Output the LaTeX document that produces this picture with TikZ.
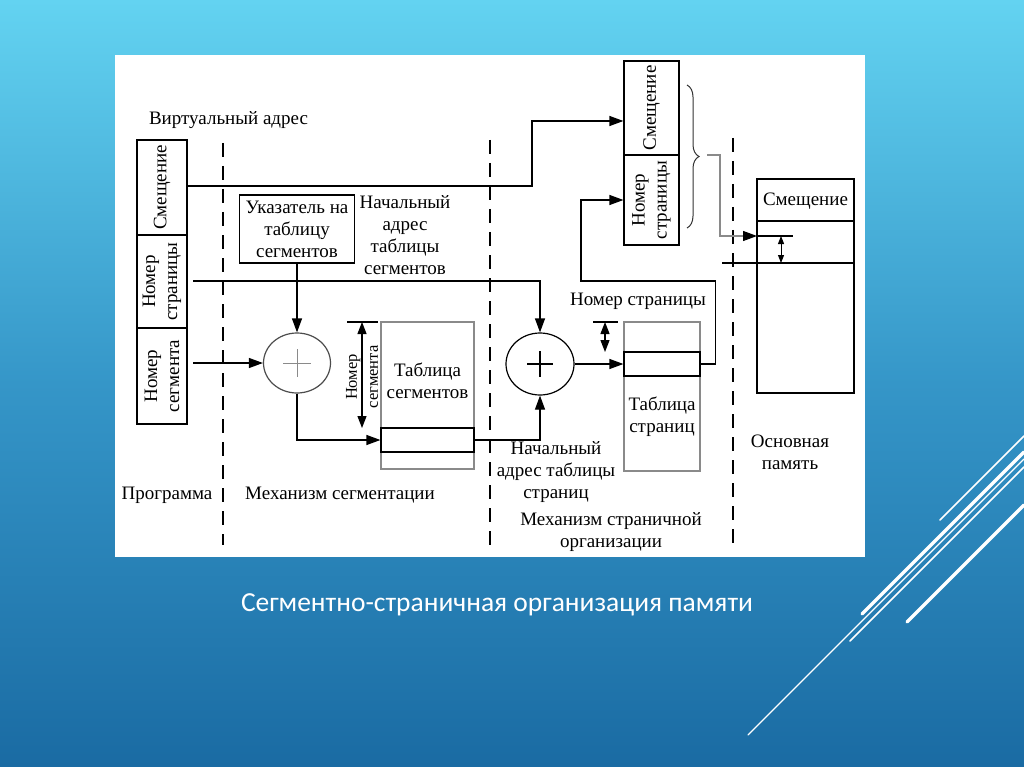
\documentclass[tikz,border=0pt]{standalone}
\usepackage{fontspec}
\setmainfont{Liberation Serif}
\newfontfamily\capfont{Carlito}
\usetikzlibrary{arrows.meta,shapes.geometric,decorations.pathreplacing}
\definecolor{bgtop}{HTML}{63D3F1}
\definecolor{bgmid}{HTML}{3596C8}
\definecolor{bgbot}{HTML}{1A6BA3}
\definecolor{tgray}{HTML}{8A8A8A}
\begin{document}
\begin{tikzpicture}[x=1pt,y=-1pt,
  ln/.style={line width=1.2pt,draw=black},
  arr/.style={ln,-{Triangle[length=14pt,width=10pt]}},
  darr/.style={ln,{Triangle[length=12pt,width=9pt]}-{Triangle[length=12pt,width=9pt]}},
  sarr/.style={line width=1pt,{Triangle[length=8pt,width=6pt]}-{Triangle[length=8pt,width=6pt]}},
  box/.style={draw=black,line width=1.2pt,inner sep=0pt,minimum width=#1},
  gbox/.style={draw=tgray,line width=1.2pt,inner sep=0pt},
  txt/.style={font=\fontsize{19}{22}\selectfont,align=center,inner sep=0pt},
  rtxt/.style={txt,rotate=90},
  dsh/.style={line width=1.4pt,dash pattern=on 14pt off 9pt},
  wl/.style={white,line cap=round}]
\useasboundingbox (0,0) rectangle (1024,767);
% background
\shade[top color=bgtop,bottom color=bgbot,middle color=bgmid] (0,0) rectangle (1024,767);
\fill[white] (115,55) rectangle (865,557);
% decorative lines
\draw[wl,line width=1.6pt] (940,520) -- (1024,436);
\draw[wl,line width=3.5pt] (862,614) -- (1024,452);
\draw[wl,line width=1.5pt] (850,641) -- (1024,467);
\draw[wl,line width=1.2pt] (748,735) -- (1024,459);
\draw[wl,line width=3.5pt] (907,622) -- (1024,505);
% caption
\node[font=\capfont\fontsize{27.5}{32}\selectfont,text=white,inner sep=0pt] (cap) at (497,605) {Сегментно-страничная организация памяти};

% dashed separators
\draw[dsh] (223,143) -- (223,545);
\draw[dsh] (490,140) -- (490,545);
\draw[dsh] (733,138) -- (733,545);

% virtual address box
\node[box=50pt,minimum height=95pt] (va1) at (162,187.5) {};
\node[box=50pt,minimum height=93pt] (va2) at (162,281.5) {};
\node[box=50pt,minimum height=96pt] (va3) at (162,376) {};
\node[rtxt] (va1t) at (va1.center) {Смещение};
\node[rtxt] (va2t) at (va2.center) {Номер\\страницы};
\node[rtxt] (va3t) at (va3.center) {Номер\\сегмента};
\node[txt] (vlab) at (228.5,120) {Виртуальный адрес};

% pointer box
\node[box=115pt,minimum height=68pt,txt,draw=black] (ptr) at (297,229) {Указатель на\\таблицу\\сегментов};
\node[txt] (nats) at (405,235) {Начальный\\адрес\\таблицы\\сегментов};

% adders
\node[ellipse,draw=black!70,line width=1.2pt,minimum width=67pt,minimum height=60pt,inner sep=0pt] (c1) at (297,363) {};
\draw[tgray,line width=1pt] (283,363) -- (311,363) (297,349) -- (297,377);
\node[ellipse,draw=black,line width=1.2pt,minimum width=68pt,minimum height=62pt,inner sep=0pt] (c2) at (540,364) {};
\draw[black,line width=1.2pt] (527,364) -- (553,364) (540,351) -- (540,377);

% segment table
\node[gbox,minimum width=93pt,minimum height=147pt] (segtab) at (427.5,395.5) {};
\node[box=93pt,minimum height=24pt] (segrow) at (427.5,440) {};
\node[txt] (segtabt) at (427.5,381) {Таблица\\сегментов};
\draw[ln] (347,322) -- (378,322);
\coordinate (sd1) at (362,322);
\coordinate (sd2) at (362,428);
\draw[darr] (sd1) -- (sd2);
\node[rtxt,font=\fontsize{16.5}{21}\selectfont] (segnum) at (362,377) {Номер\\сегмента};

% page table
\node[gbox,minimum width=76pt,minimum height=149pt] (pagetab) at (662,396.5) {};
\node[box=76pt,minimum height=24pt] (pagerow) at (662,364) {};
\node[txt] (pagetabt) at (662,417) {Таблица\\страниц};
\draw[ln] (593,322) -- (618,322);
\coordinate (pd1) at (605,322);
\coordinate (pd2) at (605,352);
\draw[darr] (pd1) -- (pd2);
\node[txt] (pnlab) at (638,301) {Номер страницы};
\node[txt] (natp) at (556,472) {Начальный\\адрес таблицы\\страниц};

% physical address box
\node[box=55pt,minimum height=94pt] (pa1) at (651.5,108) {};
\node[box=55pt,minimum height=90pt] (pa2) at (651.5,200) {};
\node[rtxt] (pa1t) at (pa1.center) {Смещение};
\node[rtxt] (pa2t) at (pa2.center) {Номер\\страницы};
\draw[decorate,decoration={brace,amplitude=12pt},line width=1pt,draw=black!80] (687,85) -- (687,228);
\coordinate (bt) at (707,155);

% main memory
\node[box=97pt,minimum height=214pt] (mem) at (805.5,286) {};
\node[txt] (memt) at (805.5,201) {Смещение};
\draw[ln] (mem.west |- 0,221) -- (mem.east |- 0,221);
\coordinate (m263) at (722,263);
\draw[ln] (m263) -- (mem.east |- 0,263);
\draw[ln] (757,236) -- (793,236);
\coordinate (md1) at (781,236);
\coordinate (md2) at (781,263);
\draw[sarr] (md1) -- (md2);
\coordinate (mtip) at (757,236);
\draw[line width=1.2pt,draw=tgray,-{Triangle[length=14pt,width=10pt,color=black]}] (bt) -- (720,155) |- (mtip);
\node[txt] (memlab) at (790,452) {Основная\\память};

% region labels
\node[txt] (prog) at (167,495) {Программа};
\node[txt] (mseg) at (340,495) {Механизм сегментации};
\node[txt] (mpage) at (611,532) {Механизм страничной\\организации};

% connectors
\draw[arr] (va1.east |- 0,186) -- (532,186) |- ([yshift=-13pt]pa1.west);
\coordinate (pn) at (193,281);
\draw[arr] (pn) -| (c2.north);
\coordinate (sn) at (193,363);
\draw[arr] (sn) -- (c1.west);
\draw[arr] (ptr.south) -- (c1.north);
\draw[arr] (c1.south) |- (segrow.west);
\draw[arr] (segrow.east) -| (c2.south);
\draw[arr] (c2.east) -- (pagerow.west);
\draw[arr] (pagerow.east) -- ++(15,0) |- (581,281) |- (pa2.west);
\end{tikzpicture}
\end{document}
